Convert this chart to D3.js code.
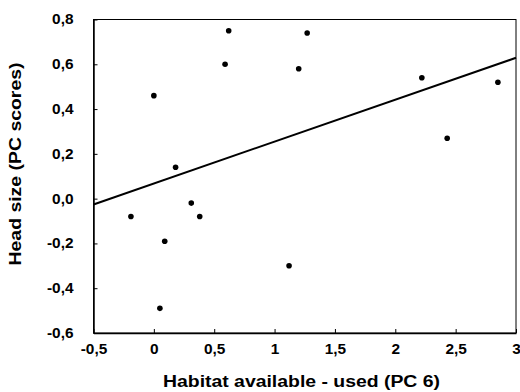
<!DOCTYPE html>
<html>
<head>
<meta charset="utf-8">
<script src="https://cdn.jsdelivr.net/npm/d3@7"></script>
<style>
	body { margin: 0; background: #fff; }
	text { font-family: 'Liberation Sans', Arial, sans-serif; font-weight: bold; fill: #000; }
</style>
</head>
<body>
<script>
// habitat (PC 6) vs head size (PC scores)
const habitat = [-0.19, 0.00, 0.05, 0.09, 0.18, 0.31, 0.38, 0.59, 0.62, 1.12, 1.20, 1.27, 2.22, 2.43, 2.85];
const headSize = [-0.08, 0.46, -0.49, -0.19, 0.14, -0.02, -0.08, 0.60, 0.75, -0.30, 0.58, 0.74, 0.54, 0.27, 0.52];
const trendX = [-0.5, 3];
const trendY = [-0.026, 0.629];
const xTicks = [-0.5, 0, 0.5, 1, 1.5, 2, 2.5, 3];
const xTickLabels = ['-0,5', '0', '0,5', '1', '1,5', '2', '2,5', '3'];
const yTicks = [-0.6, -0.4, -0.2, 0, 0.2, 0.4, 0.6, 0.8];
const yTickLabels = ['-0,6', '-0,4', '-0,2', '0,0', '0,2', '0,4', '0,6', '0,8'];

document.addEventListener('DOMContentLoaded', () => {
	let width = 520, height = 392;
	let margin = {top: 19.5, right: 4, bottom: 59, left: 93.5};
	let w = width - margin.left - margin.right;
	let h = height - margin.top - margin.bottom;

	let svg = d3.select('body').append('svg')
		.attr('width', width)
		.attr('height', height);

	let g = svg.append('g')
		.attr('transform', `translate(${margin.left},${margin.top})`);

	let x = d3.scaleLinear().domain([-0.5, 3]).range([0, w]);
	let y = d3.scaleLinear().domain([-0.6, 0.8]).range([h, 0]);

	// frame
	g.append('rect')
		.attr('width', w)
		.attr('height', h)
		.style('fill', 'none')
		.style('stroke', '#000')
		.style('stroke-width', 1);

	let xAxis = g.append('g')
		.attr('transform', `translate(0,${h})`)
		.call(d3.axisBottom(x)
			.tickValues(xTicks)
			.tickFormat((d, i) => xTickLabels[i])
			.tickSizeInner(-4)
			.tickSizeOuter(0)
			.tickPadding(9));

	let yAxis = g.append('g')
		.call(d3.axisLeft(y)
			.tickValues(yTicks)
			.tickFormat((d, i) => yTickLabels[i])
			.tickSizeInner(-4)
			.tickSizeOuter(0)
			.tickPadding(20));

	[xAxis, yAxis].forEach(a => {
		a.select('.domain').style('stroke', '#000').style('stroke-width', 1.5);
		a.selectAll('.tick line').style('stroke', '#000');
		a.selectAll('text')
			.style('font-size', '14px')
			.style('font-family', "'Liberation Sans', Arial, sans-serif")
			.style('font-weight', 'bold')
			.style('fill', '#000')
			.each(function() {
				// labels in the source are a little wider than the font
				let len = this.getComputedTextLength();
				d3.select(this)
					.attr('textLength', len * 1.1)
					.attr('lengthAdjust', 'spacingAndGlyphs');
			});
	});
	xAxis.selectAll('text').attr('dy', '0.85em');

	g.append('line')
		.attr('x1', x(trendX[0]))
		.attr('y1', y(trendY[0]))
		.attr('x2', x(trendX[1]))
		.attr('y2', y(trendY[1]))
		.style('stroke', '#000')
		.style('stroke-width', 2);

	g.selectAll('circle')
		.data(habitat.map((d, i) => ({hx: d, hs: headSize[i]})))
		.enter().append('circle')
		.attr('cx', d => x(d.hx))
		.attr('cy', d => y(d.hs))
		.attr('r', 2.8)
		.style('fill', '#000');

	svg.append('text')
		.attr('x', 301.5)
		.attr('y', 387)
		.attr('text-anchor', 'middle')
		.attr('textLength', 277)
		.attr('lengthAdjust', 'spacingAndGlyphs')
		.style('font-size', '16px')
		.text('Habitat available - used (PC 6)');

	svg.append('text')
		.attr('transform', 'translate(21,164) rotate(-90)')
		.attr('text-anchor', 'middle')
		.attr('textLength', 203)
		.attr('lengthAdjust', 'spacingAndGlyphs')
		.style('font-size', '16px')
		.text('Head size (PC scores)');
});
</script>
</body>
</html>
